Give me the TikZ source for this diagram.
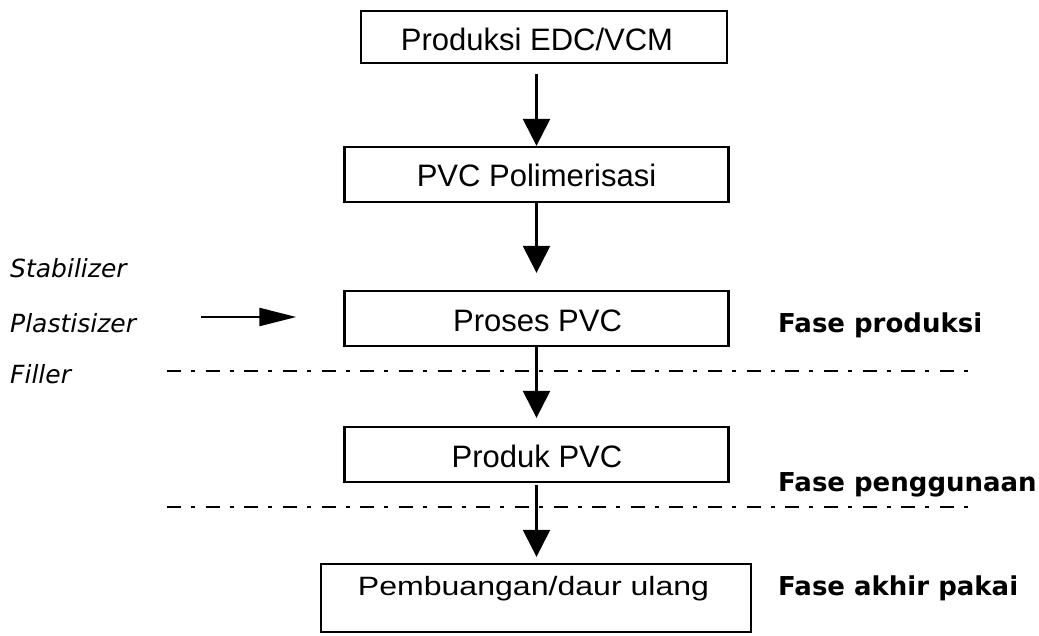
\documentclass[tikz,border=0pt]{standalone}
\usepackage{fontspec}
\setmainfont{Liberation Sans}
\newfontfamily\sidefont{DejaVu Sans}
\usetikzlibrary{arrows.meta}
\begin{document}
\begin{tikzpicture}[x=1pt,y=-1pt,
  box/.style={draw,line width=2.3pt,inner sep=0pt},
  boxtext/.style={inner sep=0pt,font=\fontsize{31}{36}\selectfont},
  inputlabel/.style={inner sep=0pt,anchor=base west,font=\sidefont\itshape\fontsize{25}{29}\selectfont},
  phaselabel/.style={inner sep=0pt,anchor=base west,font=\sidefont\bfseries\fontsize{26}{30}\selectfont},
  flow/.style={line width=2.5pt,-{Triangle[width=27pt,length=27pt]}},
  feedarrow/.style={line width=2.3pt,-{Triangle[width=18pt,length=37pt]}},
  phaseline/.style={line width=2.6pt,dash pattern=on 14pt off 10pt on 4pt off 10.65pt}]
\useasboundingbox (0,0) rectangle (1039,635);

% process boxes
\node[box,minimum width=366pt,minimum height=52pt] (b1) at (544,37) {};
\node[box,minimum width=384pt,minimum height=55pt] (b2) at (536.5,174.5) {};
\node[box,minimum width=384pt,minimum height=55pt] (b3) at (536.5,318.5) {};
\node[box,minimum width=384pt,minimum height=55pt] (b4) at (536.5,454.5) {};
\node[box,minimum width=430pt,minimum height=68pt] (b5) at (536,598) {};

% box captions
\node[boxtext,anchor=base] (t1) at (537,50) {Produksi EDC/VCM};
\node[boxtext,anchor=base] (t2) at (536.5,186) {PVC Polimerisasi};
\node[boxtext,anchor=base] (t3) at (537.5,331) {Proses PVC};
\node[boxtext,anchor=base] (t4) at (537,467) {Produk PVC};
\node[boxtext,anchor=base] (t5) at (533.5,595) {\scalebox{1.21}[1]{\fontsize{26.5}{30}\selectfont Pembuangan/daur ulang}};

% additives
\node[inputlabel] (s1) at (10,277) {Stabilizer};
\node[inputlabel] (s2) at (10,332) {Plastisizer};
\node[inputlabel] (s3) at (10,383) {Filler};

% phase names
\node[phaselabel] (p1) at (778,332) {Fase produksi};
\node[phaselabel] (p2) at (778,491) {Fase penggunaan};
\node[phaselabel] (p3) at (778,595) {Fase akhir pakai};

% phase separators
\coordinate (d1s) at (167,371);
\coordinate (d1e) at (968,371);
\coordinate (d2s) at (167,507);
\coordinate (d2e) at (968,507);
\draw[phaseline] (d1s) -- (d1e);
\draw[phaseline] (d2s) -- (d2e);

% main flow
\draw[flow,shorten <=10pt] (b1.south -| b2.north) -- (b2.north);
\draw[flow,shorten >=17pt] (b2.south) -- (b3.north);
\draw[flow,shorten >=8pt] (b3.south) -- (b4.north);
\draw[flow,shorten <=2pt,shorten >=6pt] (b4.south) -- (b5.north -| b4.south);

% additives feed into processing
\coordinate (feed) at (201,317);
\draw[feedarrow,shorten >=47pt] (feed) -- (feed -| b3.west);
\end{tikzpicture}
\end{document}
